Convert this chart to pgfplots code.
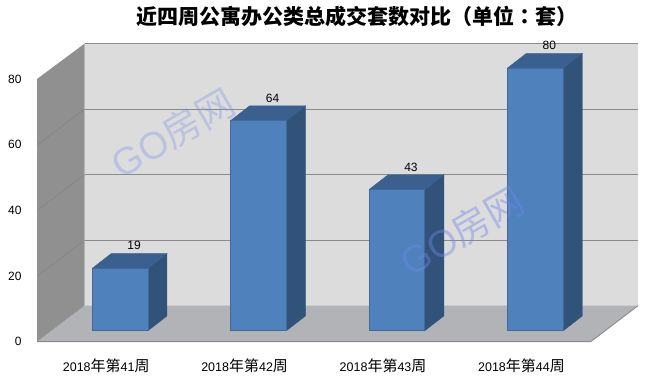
\documentclass[border=0pt]{standalone}
\usepackage{pgfplots}
\pgfplotsset{compat=1.18}
\usepackage{fontspec}
\setmainfont{Liberation Sans}
\newfontfamily\cjk{Noto Sans CJK SC}
\newfontfamily\cjktc{Noto Sans CJK TC}
\definecolor{wallback}{HTML}{DCDCDC}
\definecolor{wallleft}{HTML}{909090}
\definecolor{floorc}{HTML}{B1B3B6}
\definecolor{gridc}{HTML}{8A8A8A}
\definecolor{barfront}{HTML}{4F81BD}
\definecolor{bartop}{HTML}{3A608F}
\definecolor{barside}{HTML}{315279}
\definecolor{baredge}{HTML}{41699B}
\definecolor{wm}{HTML}{6F86E6}
\newcommand\xlab[1]{2018{\cjk\fontsize{15}{17}\selectfont 年第}#1{\cjk\fontsize{15}{17}\selectfont 周}}
\begin{document}
\begin{tikzpicture}
\useasboundingbox (-37pt,-40.3pt) rectangle (615pt,341.7pt);
% walls
\fill[wallback] (47.5pt,36pt) rectangle (601pt,298pt);
\fill[floorc] (0pt,0pt) -- (553.7pt,0pt) -- (601pt,36pt) -- (47.5pt,36pt) -- cycle;
\fill[wallleft] (0pt,0pt) -- (0pt,262.7pt) -- (47.5pt,298pt) -- (47.5pt,36pt) -- cycle;
\draw[gridc,line width=0.9pt] (47.5pt,298pt) -- (601pt,298pt);
\draw[gridc,line width=0.9pt] (0pt,0pt) -- (553.7pt,0pt) -- (601pt,36pt);
\foreach \v in {20,40,60}{
  \draw[gridc,line width=0.9pt] (47.5pt,36pt+\v*3.275pt) -- (601pt,36pt+\v*3.275pt);
  \draw[black!50,line width=0.4pt] (0pt,\v*3.275pt) -- (47.5pt,36pt+\v*3.275pt);
}
\begin{axis}[
  scale only axis, width=553.7pt, height=262.7pt,
  xmin=-0.5, xmax=3.5, ymin=0, ymax=80,
  clip=false, axis line style={draw=none}, tick style={draw=none},
  major tick length=0pt,
  xtick={0,1,2,3},
  xticklabels={{\xlab{41}},{\xlab{42}},{\xlab{43}},{\xlab{44}}},
  ytick={0,20,40,60,80},
  /pgf/number format/assume math mode=true,
  tick label style={font=\fontsize{12}{14}\selectfont},
  x tick label style={anchor=center, yshift=-24pt, font=\fontsize{12.5}{14}\selectfont},
  y tick label style={anchor=east, xshift=-12pt},
]
% side and top faces
\addplot[fill=barside,draw=barside,xshift=13.9pt,yshift=11pt] coordinates {(0.2012,0)(0.3385,4.49)(0.3385,23.49)(0.2012,19)} -- cycle;
\addplot[fill=bartop,draw=bartop,xshift=13.9pt,yshift=11pt] coordinates {(-0.2012,19)(0.2012,19)(0.3385,23.49)(-0.0639,23.49)} -- cycle;
\addplot[fill=barside,draw=barside,xshift=13.9pt,yshift=11pt] coordinates {(1.2012,0)(1.3385,4.49)(1.3385,68.49)(1.2012,64)} -- cycle;
\addplot[fill=bartop,draw=bartop,xshift=13.9pt,yshift=11pt] coordinates {(0.7988,64)(1.2012,64)(1.3385,68.49)(0.9361,68.49)} -- cycle;
\addplot[fill=barside,draw=barside,xshift=13.9pt,yshift=11pt] coordinates {(2.2012,0)(2.3385,4.49)(2.3385,47.49)(2.2012,43)} -- cycle;
\addplot[fill=bartop,draw=bartop,xshift=13.9pt,yshift=11pt] coordinates {(1.7988,43)(2.2012,43)(2.3385,47.49)(1.9361,47.49)} -- cycle;
\addplot[fill=barside,draw=barside,xshift=13.9pt,yshift=11pt] coordinates {(3.2012,0)(3.3385,4.49)(3.3385,84.49)(3.2012,80)} -- cycle;
\addplot[fill=bartop,draw=bartop,xshift=13.9pt,yshift=11pt] coordinates {(2.7988,80)(3.2012,80)(3.3385,84.49)(2.9361,84.49)} -- cycle;
% front faces with values
\addplot[ybar, bar width=55.7pt, bar shift=0pt, fill=barfront, draw=baredge, line width=0.7pt,
  xshift=13.9pt, yshift=11pt,
  nodes near coords,
  nodes near coords style={font=\fontsize{12}{14}\selectfont, anchor=center, xshift=14pt, yshift=22.5pt, /pgf/number format/assume math mode=true}]
  coordinates {(0,19)(1,64)(2,43)(3,80)};
\end{axis}
% watermark
\node[rotate=30,text=wm,text opacity=0.3,font=\fontsize{38}{40}\selectfont] at (136pt,208.7pt) {GO{\cjk 房网}};
\node[rotate=30,text=wm,text opacity=0.42,font=\fontsize{38}{40}\selectfont] at (425pt,110.7pt) {GO{\cjk 房网}};
% title
\node[anchor=west,inner sep=0pt,font=\fontsize{21}{24}\selectfont\cjk\bfseries] at (99pt,325.7pt) {近四周公寓办公类总成交套数对比{\cjktc\bfseries （}单位{\cjktc\bfseries ：}套{\cjktc\bfseries ）}};
\end{tikzpicture}
\end{document}
